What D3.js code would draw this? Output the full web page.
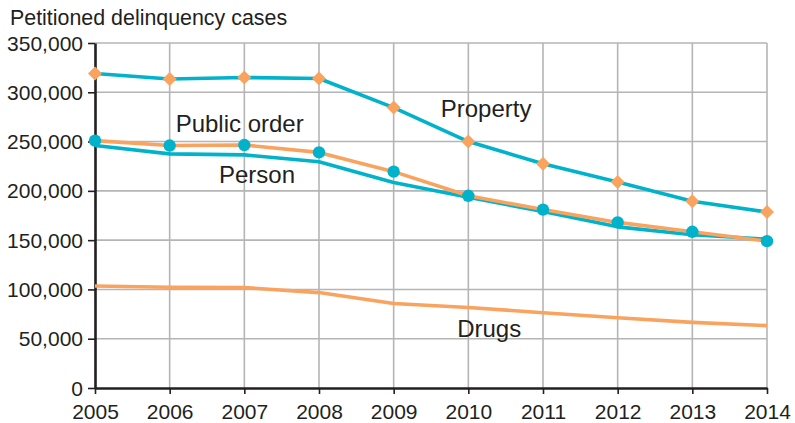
<!DOCTYPE html>
<html>
<head>
<meta charset="utf-8">
<script src="https://cdn.jsdelivr.net/npm/d3@7/dist/d3.min.js"></script>
<style>
    body { margin: 0; background: #fff; }
    text { font-family: "Liberation Sans", Arial, sans-serif; fill: #231f20; }
</style>
</head>
<body>
<div id="chart"></div>
<script>
(function () {
    'use strict';

    var years = [2005, 2006, 2007, 2008, 2009, 2010, 2011, 2012, 2013, 2014];
    var property = [319000, 313500, 315000, 314000, 284500, 250000, 227500, 209000, 189500, 178500];
    var publicOrder = [251000, 246000, 246500, 239000, 219500, 195000, 181000, 168000, 158500, 149000];
    var person = [246000, 237500, 236500, 229500, 208500, 193500, 179000, 163500, 155500, 151000];
    var drugs = [103500, 102200, 101800, 96800, 85800, 81700, 76400, 71300, 66600, 63300];
    var yTicks = [0, 50000, 100000, 150000, 200000, 250000, 300000, 350000];

    var labels = [
        { text: 'Property', year: 2009.63, value: 274500 },
        { text: 'Public order', year: 2006.08, value: 260000 },
        { text: 'Person', year: 2006.66, value: 207700 },
        { text: 'Drugs', year: 2009.85, value: 51700 }
    ];

    var width = 795, height = 423;
    var margin = { top: 43, right: 28, bottom: 35, left: 95 };
    var teal = '#00b3cb';
    var orange = '#f9a35e';
    var grid = '#b5b5b5';
    var ink = '#231f20';

    var svg = d3.select('#chart').append('svg')
        .attr('width', width)
        .attr('height', height);

    var x = d3.scaleLinear()
        .domain([2005, 2014])
        .range([margin.left, width - margin.right]);

    var y = d3.scaleLinear()
        .domain([0, 350000])
        .range([height - margin.bottom, margin.top]);

    // grid
    svg.append('g')
        .selectAll('line.h')
        .data(yTicks.slice(1))
        .enter().append('line')
        .attr('x1', margin.left).attr('x2', x(2014))
        .attr('y1', function (d) { return y(d); })
        .attr('y2', function (d) { return y(d); })
        .style('stroke', grid).style('stroke-width', 1.6);

    svg.append('g')
        .selectAll('line.v')
        .data(years.slice(1))
        .enter().append('line')
        .attr('x1', function (d) { return x(d); })
        .attr('x2', function (d) { return x(d); })
        .attr('y1', y(350000)).attr('y2', y(0))
        .style('stroke', grid).style('stroke-width', 1.6);

    // axes
    var yAxis = svg.append('g')
        .attr('transform', 'translate(' + margin.left + ',0)')
        .call(d3.axisLeft(y).tickValues(yTicks).tickSize(7).tickPadding(5)
            .tickFormat(d3.format(',')).tickSizeOuter(0));
    var xAxis = svg.append('g')
        .attr('transform', 'translate(0,' + y(0) + ')')
        .call(d3.axisBottom(x).tickValues(years).tickSize(6).tickPadding(9)
            .tickFormat(d3.format('d')).tickSizeOuter(0));

    [yAxis, xAxis].forEach(function (ax) {
        ax.select('.domain').style('stroke', ink).style('stroke-width', 2.6);
        ax.selectAll('.tick line').style('stroke', ink).style('stroke-width', 1.6);
        ax.selectAll('text').style('font-size', '21px').style('fill', ink)
            .style('font-family', '"Liberation Sans", Arial, sans-serif');
    });
    xAxis.selectAll('text').attr('dy', '0.75em');
    yAxis.selectAll('text').attr('dy', '0.34em');

    var line = d3.line()
        .x(function (d, i) { return x(years[i]); })
        .y(function (d) { return y(d); });

    function drawLine(values, color) {
        svg.append('path')
            .datum(values)
            .attr('d', line)
            .style('fill', 'none')
            .style('stroke', color)
            .style('stroke-width', 3.6)
            .style('stroke-linejoin', 'round');
    }

    drawLine(drugs, orange);
    drawLine(person, teal);
    drawLine(publicOrder, orange);
    drawLine(property, teal);

    svg.append('g')
        .selectAll('path')
        .data(property)
        .enter().append('path')
        .attr('d', d3.symbol().type(d3.symbolDiamond2).size(125))
        .attr('transform', function (d, i) { return 'translate(' + x(years[i]) + ',' + y(d) + ')'; })
        .style('fill', orange);

    svg.append('g')
        .selectAll('circle')
        .data(publicOrder)
        .enter().append('circle')
        .attr('cx', function (d, i) { return x(years[i]); })
        .attr('cy', function (d) { return y(d); })
        .attr('r', 6.2)
        .style('fill', teal);

    svg.append('g')
        .selectAll('text')
        .data(labels)
        .enter().append('text')
        .attr('x', function (d) { return x(d.year); })
        .attr('y', function (d) { return y(d.value); })
        .style('font-size', '24px')
        .text(function (d) { return d.text; });

    svg.append('text')
        .attr('x', 10)
        .attr('y', 25)
        .style('font-size', '21.4px')
        .text('Petitioned delinquency cases');
})();
</script>
</body>
</html>
